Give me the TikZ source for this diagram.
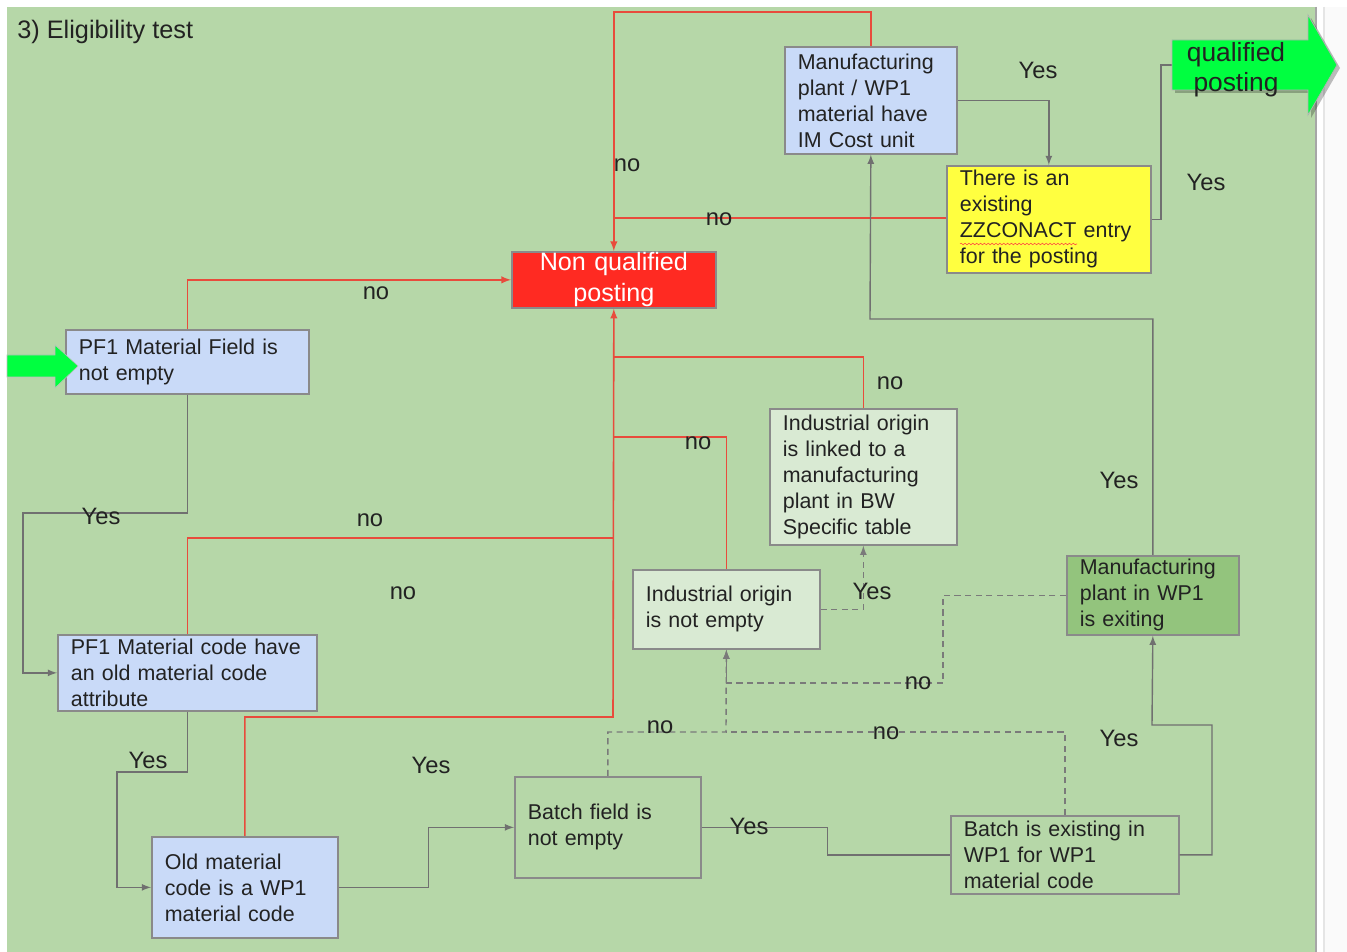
\documentclass[tikz,border=0pt]{standalone}
\usepackage{fontspec}
\setmainfont{Liberation Sans}
\usepackage{xcolor}
\usepackage{tikz}
\usetikzlibrary{positioning}
\usetikzlibrary{shadows}
\usetikzlibrary{decorations.pathmorphing}

\definecolor{bggreen}{HTML}{B6D7A8}
\definecolor{boxblue}{HTML}{C9DAF8}
\definecolor{boxpale}{HTML}{D9EAD3}
\definecolor{boxgreen}{HTML}{93C47D}
\definecolor{boxyellow}{HTML}{FFFF40}
\definecolor{nonqred}{HTML}{FF2A22}
\definecolor{qualgreen}{HTML}{00FF40}
\definecolor{boxedge}{HTML}{8A8A8A}
\definecolor{linegray}{HTML}{707070}
\definecolor{dashgray}{HTML}{7A7A7A}
\definecolor{linered}{HTML}{E84B3C}
\definecolor{textdark}{HTML}{222222}

\tikzset{
	box/.style={draw=boxedge,line width=1pt,align=left,inner xsep=0.26cm,inner ysep=0pt,anchor=north west,text=textdark,font=\fontsize{12.2}{14.8}\selectfont},
	bluebox/.style={box,fill=boxblue,drop shadow={shadow xshift=0.7pt,shadow yshift=-0.7pt,opacity=0.3}},
	palebox/.style={box,fill=boxpale},
	lbl/.style={inner sep=0pt,text=textdark,font=\fontsize{13.5}{16}\selectfont},
	yesline/.style={draw=linegray,line width=0.8pt},
	noline/.style={draw=linered,line width=0.9pt},
	maybeline/.style={draw=dashgray,line width=0.8pt,dash pattern=on 3.5pt off 2.5pt}
}

\begin{document}
\begin{tikzpicture}[x=0.02cm,y=-0.02cm]
		\useasboundingbox (0,0) rectangle (1347,952);
		\fill[white] (0,0) rectangle (1347,952);
		\fill[bggreen] (7,7) rectangle (1316,952);
		\fill[black!2] (1324,7) rectangle (1347,952);
		\draw[black!35,line width=0.6pt] (1316,7) -- (1316,952);
		\draw[black!10,line width=0.6pt] (1324,7) -- (1324,952);
		\node[anchor=west,inner sep=0pt,text=textdark,font=\fontsize{14.4}{17}\selectfont] (title) at (17,32) {3) Eligibility test};

		\node[bluebox,text width=4.34cm,minimum height=1.28cm] (pfield) at (65,329) {PF1 Material Field is\\not empty};
		\node[box,fill=nonqred,text=white,align=center,text width=3.56cm,minimum height=1.12cm,font=\fontsize{14.3}{17.6}\selectfont] (nonq) at (511,251) {Non qualified\\posting};
		\node[bluebox,text width=2.92cm,minimum height=2.14cm] (mfgim) at (784,46) {Manufacturing\\plant / WP1\\material have\\IM Cost unit};
		\node[box,fill=boxyellow,text width=3.56cm,minimum height=2.14cm] (zzc) at (946,165) {There is an\\existing\\ZZCONACT entry\\for the posting};
		\node[palebox,text width=3.22cm,minimum height=2.72cm] (indlink) at (769,408) {Industrial origin\\is linked to a\\manufacturing\\plant in BW\\Specific table};
		\node[palebox,text width=3.22cm,minimum height=1.58cm] (indne) at (632,569) {Industrial origin\\is not empty};
		\node[box,fill=boxgreen,text width=2.92cm,minimum height=1.58cm] (mfgwp) at (1066,555) {Manufacturing\\plant in WP1\\is exiting};
		\node[bluebox,text width=4.66cm,minimum height=1.52cm] (pfcode) at (57,634) {PF1 Material code have\\an old material code\\attribute};
		\node[bluebox,text width=3.20cm,minimum height=2.02cm] (oldmat) at (151,836) {Old material\\code is a WP1\\material code};
		\node[box,text width=3.20cm,minimum height=2.02cm] (batchf) at (514,776) {Batch field is\\not empty};
		\node[box,text width=4.04cm,minimum height=1.56cm] (batche) at (950,815) {Batch is existing in\\WP1 for WP1\\material code};
		\draw[decorate,decoration={snake,amplitude=0.45pt,segment length=2.2pt},red!75,line width=0.3pt] (960,244) -- (1077,244);

		\coordinate (zzcin) at (946,218);
		\coordinate (jzzc) at (613,218);
		\coordinate (jlink) at (613,357);
		\coordinate (jne) at (613,437);
		\coordinate (jcode) at (613,538);
		\coordinate (redbase) at (613,717);
		\coordinate (jdash) at (726,732);
		\coordinate (qualin) at (1172,65);

		\draw[noline,-latex] (pfield.north) |- (nonq.west);
		\draw[noline,-latex] (mfgim.north) -- ++(0,-34) -| (nonq.north);
		\draw[noline,line width=1.1pt] (zzcin) -- (jzzc);
		\draw[noline] (indlink.north) |- (jlink);
		\draw[noline] (indne.north) |- (jne);
		\draw[noline] (pfcode.north) |- (jcode);
		\draw[noline,-latex] (oldmat.north) |- (redbase) -- (nonq.south);

		\draw[yesline,-latex] (pfield.south) |- (23,513) |- (pfcode.west);
		\draw[yesline,-latex] (pfcode.south) |- (117,772) |- (oldmat.west);
		\draw[yesline,-latex] (oldmat.east) -- ++(90,0) |- (batchf.west);
		\draw[yesline] (batchf.east) -- ++(126,0) |- (batche.west);
		\draw[yesline,-latex] (batche.east) -| (1212,725) -- (1152,725) -- (mfgwp.south);
		\draw[yesline,-latex] (mfgwp.north) |- (870,319) -- (mfgim.south);
		\draw[yesline,-latex] (mfgim.east) -| (zzc.north);
		\draw[yesline] (zzc.east) -| (1161,65) -- (qualin);

		\draw[maybeline,-latex] (indne.east) -| (indlink.south);
		\draw[maybeline,-latex] (mfgwp.west) -| (943,683) -| (indne.south);
		\draw[maybeline,-latex] (batchf.north) |- (jdash) -- (indne.south);
		\draw[maybeline] (batche.north) |- (jdash);

		\fill[black,opacity=0.25] (1175,43) -- (1311,43) -- (1311,18) -- (1340,68) -- (1311,118) -- (1311,93) -- (1175,93) -- cycle;
		\filldraw[fill=qualgreen,draw=black!30,line width=0.4pt] (1172,40) -- (1308,40) -- (1308,15) -- (1337,65) -- (1308,115) -- (1308,90) -- (1172,90) -- cycle;
		\node[align=center,inner sep=0pt,text=textdark,font=\fontsize{15}{17.1}\selectfont] (qualtext) at (1236,70) {qualified\\posting};
		\filldraw[fill=qualgreen,draw=black!25,line width=0.3pt] (7,355) -- (55,355) -- (55,345) -- (78,366) -- (55,388) -- (55,377) -- (7,377) -- cycle;

		\node[lbl] (no1) at (376,293) {no};
		\node[lbl] (no2) at (627,165) {no};
		\node[lbl] (no3) at (719,219) {no};
		\node[lbl] (no4) at (890,383) {no};
		\node[lbl] (no5) at (698,443) {no};
		\node[lbl] (no6) at (370,520) {no};
		\node[lbl] (no7) at (403,593) {no};
		\node[lbl] (no8) at (918,683) {no};
		\node[lbl] (no9) at (660,727) {no};
		\node[lbl] (no10) at (886,733) {no};
		\node[lbl] (yes1) at (1038,70) {Yes};
		\node[lbl] (yes2) at (1206,182) {Yes};
		\node[lbl] (yes3) at (1119,480) {Yes};
		\node[lbl] (yes4) at (1119,738) {Yes};
		\node[lbl] (yes5) at (872,591) {Yes};
		\node[lbl] (yes6) at (749,826) {Yes};
		\node[lbl] (yes7) at (431,765) {Yes};
		\node[lbl] (yes8) at (148,760) {Yes};
		\node[lbl] (yes9) at (101,516) {Yes};
	\end{tikzpicture}
\end{document}
